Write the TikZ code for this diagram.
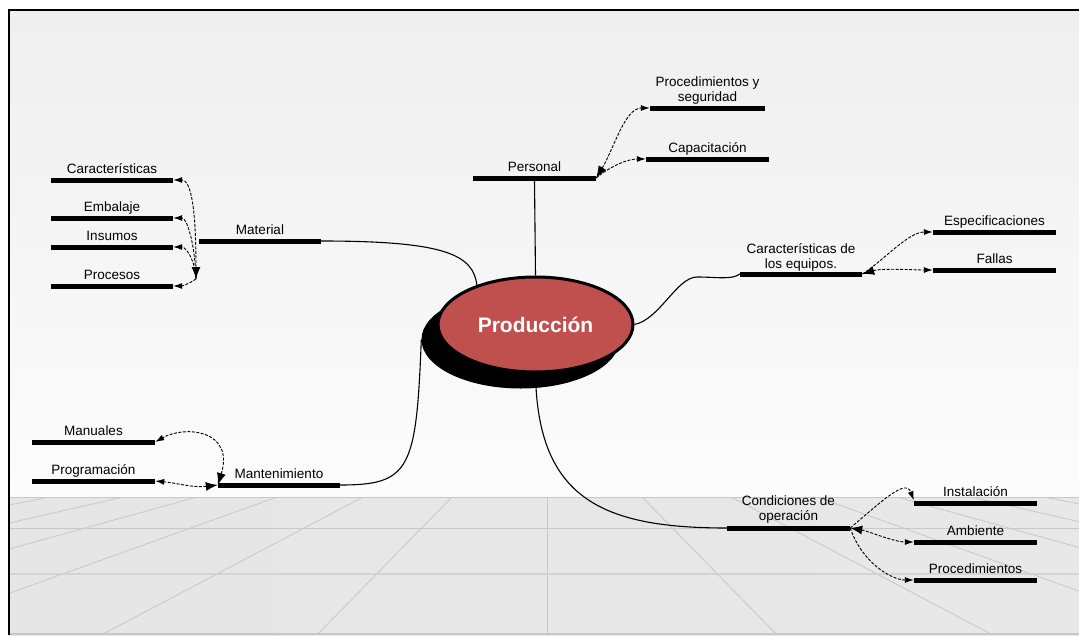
\documentclass[tikz,border=0pt]{standalone}
\usepackage{fontspec}
\setmainfont{Liberation Sans}
\usetikzlibrary{arrows.meta,shapes.geometric}
\definecolor{bgtop}{HTML}{EFEFEF}
\definecolor{bgbot}{HTML}{FCFCFC}
\definecolor{flL}{HTML}{E6E6E6}
\definecolor{flM}{HTML}{FAFAFA}
\definecolor{flR}{HTML}{E8E8E8}
\definecolor{gridc}{HTML}{C8C8C8}
\definecolor{redc}{HTML}{C0504D}
\newcommand\twol[2]{\begin{tabular}[b]{@{}c@{}}#1\\#2\end{tabular}}
\begin{document}
\begin{tikzpicture}[x=1pt,y=-1pt,
  bar/.style={rectangle,fill=black,inner sep=0pt,minimum height=5pt,minimum width=123pt},
  lbl/.style={font=\fontsize{13.5}{15}\selectfont,inner sep=0pt,anchor=base},
  conn/.style={line width=1.1pt},
  dconn/.style={line width=0.9pt,dash pattern=on 3pt off 1.5pt},
  leaf/.style={-{Latex[length=9pt,width=6pt]}},
  both/.style={{Latex[length=12pt,width=9pt]}-{Latex[length=9pt,width=6pt]}},
  gridl/.style={draw=gridc,line width=0.8pt}]
\useasboundingbox (0,0) rectangle (1079,635);
\fill[white] (0,0) rectangle (1079,635);
\shade[top color=bgtop,bottom color=bgbot] (9,10) rectangle (1079,497);
\shade[left color=flL,middle color=flM,right color=flR] (9,497) rectangle (1079,635);
\begin{scope}
  \clip (9,497) rectangle (1079,635);
  \foreach \d in {95,184,270,350,424,497}{
    \pgfmathsetmacro\dd{\d/97*234}
    \draw[gridl] (547-\d,497) -- (547-\dd,634);
    \draw[gridl] (547+\d,497) -- (547+\dd,634);
  }
  \draw[gridl] (547,497) -- (547,634);
  \draw[gridl] (9,497.5) -- (1079,497.5);
  \draw[gridl] (9,528) -- (1079,528);
  \draw[draw=gridc!80,line width=2pt] (9,574) -- (1079,574);
  \draw[gridl,line width=1.5pt] (9,634) -- (1079,634);
\end{scope}
\draw[line width=2.2pt] (9,635) -- (9,10) -- (1079,10);

% central topic
\node[ellipse,fill=black,inner sep=0pt,minimum width=198pt,minimum height=98pt] (shd) at (520.5,339.5) {};
\node[ellipse,fill=redc,draw=black,line width=3pt,inner sep=0pt,minimum width=195pt,minimum height=95pt,
      text=white,font=\bfseries\fontsize{21}{25}\selectfont] (main) at (535.5,324.5) {Producción};

% bars
\node[bar] (per) at (534.5,178) {};
\node[bar,minimum width=115pt] (proc) at (707.5,108) {};
\node[bar] (cap) at (707.5,159) {};
\node[bar,minimum width=122pt] (mat) at (260,241) {};
\node[bar,minimum width=122pt] (car) at (112,180) {};
\node[bar,minimum width=122pt] (emb) at (112,218) {};
\node[bar,minimum width=122pt] (ins) at (112,247) {};
\node[bar,minimum width=122pt] (pro) at (112,286) {};
\node[bar,minimum width=122pt] (eq) at (801,274) {};
\node[bar] (esp) at (994.5,232) {};
\node[bar] (fal) at (994.5,270) {};
\node[bar,minimum width=122pt] (man) at (279,485) {};
\node[bar] (manu) at (93.5,442) {};
\node[bar] (prog) at (93.5,481) {};
\node[bar] (con) at (788.5,528) {};
\node[bar] (inst) at (975.5,503) {};
\node[bar] (amb) at (975.5,542) {};
\node[bar] (proc2) at (975.5,580) {};

% labels
\node[lbl] (perT) at (534.5,171.5) {Personal};
\node[lbl] (procT) at (707.5,101.5) {\twol{Procedimientos y}{seguridad}};
\node[lbl] (capT) at (707.5,152.5) {Capacitación};
\node[lbl] (matT) at (260,234.5) {Material};
\node[lbl] (carT) at (112,173.5) {Características};
\node[lbl] (embT) at (112,211.5) {Embalaje};
\node[lbl] (insT) at (112,240.5) {Insumos};
\node[lbl] (proT) at (112,279.5) {Procesos};
\node[lbl] (eqT) at (801,268) {\twol{Características de}{los equipos.}};
\node[lbl] (espT) at (994.5,225.5) {Especificaciones};
\node[lbl] (falT) at (994.5,263.5) {Fallas};
\node[lbl] (manT) at (279,478.5) {Mantenimiento};
\node[lbl] (manuT) at (93.5,435.5) {Manuales};
\node[lbl] (progT) at (93.5,474.5) {Programación};
\node[lbl] (conT) at (788.5,520.5) {\twol{Condiciones de}{operación}};
\node[lbl] (instT) at (975.5,496.5) {Instalación};
\node[lbl] (ambT) at (975.5,535.5) {Ambiente};
\node[lbl] (proc2T) at (975.5,573.5) {Procedimientos};

% main connectors
\draw[conn] (main.north) -- (per.south);
\draw[conn] (mat.east) .. controls +(125,0) and +(-4,-30) .. (main.146);
\coordinate (eqk) at (697,277);
\draw[conn] (main.east) .. controls +(25,-5) and +(-20,0) .. (eqk) .. controls +(20,0) and +(-8,6) .. (eq.west);
\draw[conn] (shd.west) .. controls +(-5,130) and +(70,0) .. (man.east);
\draw[conn] (main.south) .. controls +(2,125) and +(-125,0) .. (con.west);

% sub connectors
\draw[dconn,both] (per.east) .. controls +(17,-28) and +(-25,0) .. (proc.west);
\draw[dconn,leaf] (per.east) .. controls +(12,-10) and +(-20,0) .. (cap.west);

\coordinate (mj) at (196,279);
\draw[dconn,both] (mj) .. controls +(0,-70) and +(18,0) .. (car.east);
\draw[dconn,leaf] (mj) .. controls +(-1,-35) and +(14,0) .. (emb.east);
\draw[dconn,leaf] (mj) .. controls +(0,-15) and +(14,0) .. (ins.east);
\draw[dconn,leaf] (mj) .. controls +(-6,4) and +(10,0) .. (pro.east);

\draw[dconn,leaf] (eq.east) .. controls +(20,-12) and +(-25,0) .. (esp.west);
\draw[dconn,both] (eq.east) .. controls +(20,-6) and +(-20,0) .. (fal.west);

\draw[dconn,both] (man.west) .. controls +(17,-55) and +(30,-17) .. (manu.east);
\draw[dconn,both] (man.west) .. controls +(-25,3) and +(22,2) .. (prog.east);

\draw[dconn,leaf] (con.east) .. controls +(33,-28) and +(-8,-22) .. (inst.north west);
\draw[dconn,both] (con.east) .. controls +(18,3) and +(-20,0) .. (amb.west);
\draw[dconn,leaf] (con.east) .. controls +(12,35) and +(-22,0) .. (proc2.west);
\end{tikzpicture}
\end{document}
